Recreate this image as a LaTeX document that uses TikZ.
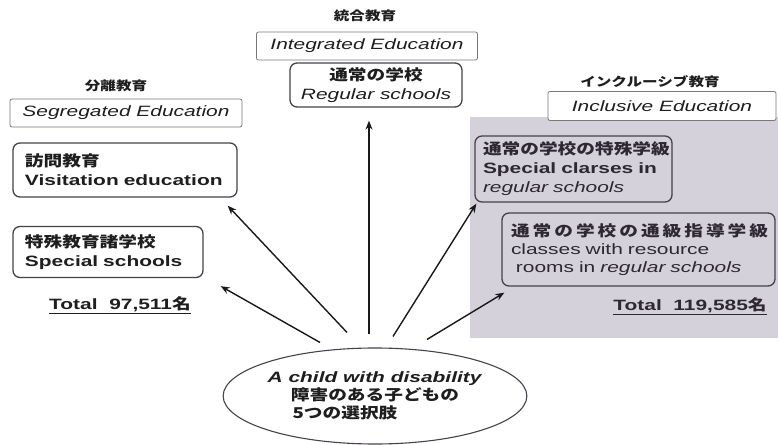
\documentclass[tikz,border=0pt]{standalone}
\usepackage{fontspec}
\setmainfont{Liberation Sans}[FakeStretch=1.4]
\newfontfamily\jp{Noto Sans CJK JP}[FakeStretch=1.25]
\usetikzlibrary{arrows.meta,shapes.geometric}
\definecolor{boxc}{RGB}{70,66,74}
\definecolor{lblc}{RGB}{120,120,120}
\definecolor{txtc}{RGB}{30,30,30}
\definecolor{rtxt}{RGB}{45,40,52}
\definecolor{grayfill}{RGB}{212,209,219}
\definecolor{arrc}{RGB}{25,25,25}
\newcommand{\fsz}{\fontsize{15}{19}\selectfont}
\begin{document}
\begin{tikzpicture}[x=1bp,y=-1bp,
  every node/.style={text=txtc},
  lbl/.style={draw=lblc, line width=0.8bp, rounded corners=2bp, inner sep=0, font=\fsz\itshape},
  bx/.style={draw=boxc, line width=1.3bp, rounded corners=7bp, inner xsep=12bp, inner ysep=0, align=left, font=\fsz},
  head/.style={font=\jp\bfseries\fontsize{12.5}{14}\selectfont},
  tot/.style={font=\fsz\bfseries},
  arr/.style={draw=arrc, line width=1.4bp, -{Stealth[length=9bp,width=7bp]}}]
\useasboundingbox (0,0) rectangle (778,445);
\fill[grayfill] (470,117) rectangle (778,338);

% segregated
\node[head] (hseg) at (116,86) {分離教育};
\node[lbl, minimum width=232bp, minimum height=28bp] (seg) at (126,113) {Segregated Education};
\node[bx, minimum width=224bp, minimum height=54bp, text width=200bp] (vis) at (125,170)
  {{\jp\bfseries 訪問教育}\\\textbf{Visitation education}};
\node[bx, minimum width=190bp, minimum height=51bp, text width=166bp] (sps) at (108,252)
  {{\jp\bfseries 特殊教育諸学校}\\\textbf{Special schools}};
\node[tot] (tl) at (120,305) {\underline{Total\ \ 97,511{\jp 名}}};

% integrated
\node[head] (hint) at (365,16) {統合教育};
\node[lbl, minimum width=221bp, minimum height=28bp] (intg) at (367,46) {Integrated Education};
\node[bx, align=center, inner xsep=4bp, minimum width=172bp, minimum height=44bp] (reg) at (376,85)
  {{\jp\bfseries 通常の学校}\\\textit{Regular schools}};

% inclusive
\node[head] (hinc) at (650,82) {インクルーシブ教育};
\node[lbl, fill=white, minimum width=228bp, minimum height=29bp] (inc) at (662,106) {Inclusive Education};
\node[bx, text=rtxt, minimum width=197bp, minimum height=66bp, text width=181bp, inner xsep=8bp] (cls) at (573.5,169)
  {{\jp\bfseries 通常の学校の特殊学級}\\\textbf{Special clarses in}\\\textit{regular schools}};
\node[bx, text=rtxt, minimum width=273bp, minimum height=73bp, text width=255bp, inner xsep=9bp, font=\fontsize{15}{18}\selectfont] (res) at (638.5,249.5)
  {{\jp\bfseries\addfontfeature{LetterSpace=20}通常の学校の通級指導学級}\\classes with resource\\\ rooms in \textit{regular schools}};
\node[tot, text=rtxt] (tr) at (690,306) {\underline{Total\ \ 119,585{\jp 名}}};

% child
\node[ellipse, draw=boxc, line width=1.1bp, minimum width=262bp, minimum height=96bp, inner sep=0, align=center, font=\fsz] (child) at (375,396)
  {\textbf{\textit{A child with disability}}\\[-1bp]{\jp\bfseries 障害のある子どもの}\hspace*{10bp}\\[-1bp]{\jp\bfseries 5つの選択肢}\hspace*{60bp}};

% arrows
\draw[arr] ([shift={(-28,-15)}]child.north) -- ([shift={(-10,8)}]vis.south east);
\draw[arr] ([shift={(-55,-5)}]child.north) -- ([shift={(17,8)}]sps.south east);
\draw[arr] ([shift={(-6,-13)}]child.north) -- ([shift={(-7,13)}]reg.south);
\draw[arr] ([shift={(18,-11)}]child.north) -- ([shift={(2,1)}]cls.south west);
\draw[arr] ([shift={(52,-8)}]child.north) -- ([shift={(3,6)}]res.south west);
\end{tikzpicture}
\end{document}
